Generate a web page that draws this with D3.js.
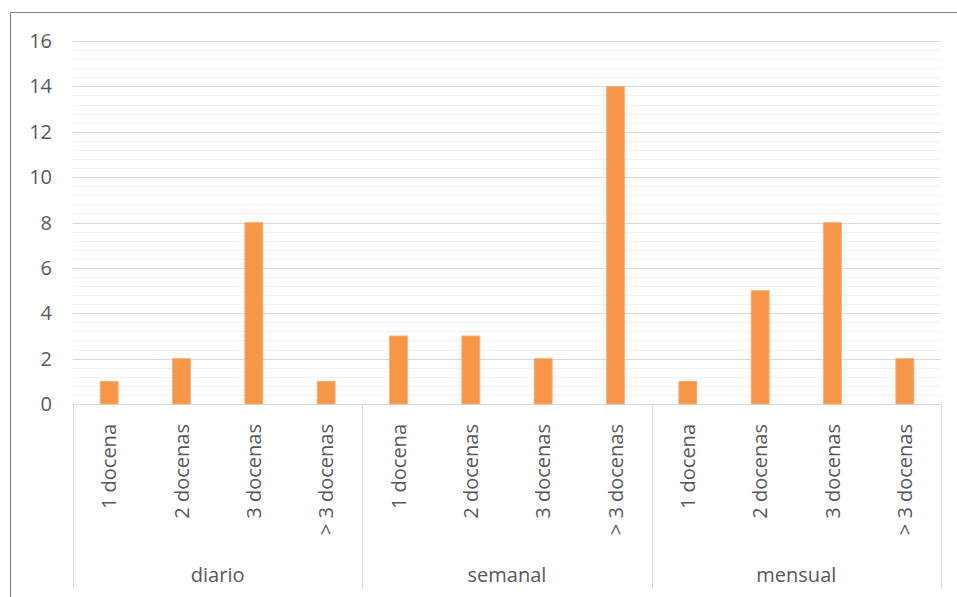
<!DOCTYPE html>
<html>
<head>
<meta charset="utf-8">
<script src="https://cdn.jsdelivr.net/npm/d3@7"></script>
<style>
body { margin: 0; background: #fff; }
text { font-family: 'Open Sans', sans-serif; fill: #595959; }
</style>
</head>
<body>
<svg id="chart"></svg>
<script>
var width = 957;
var height = 597;

// data
var groups = ["diario", "semanal", "mensual"];
var categories = ["1 docena", "2 docenas", "3 docenas", "> 3 docenas"];
var diario = [1, 2, 8, 1];
var semanal = [3, 3, 2, 14];
var mensual = [1, 5, 8, 2];
var yTicks = [0, 2, 4, 6, 8, 10, 12, 14, 16];

var series = [diario, semanal, mensual];
var data = [];
groups.forEach(function (g, gi) {
	categories.forEach(function (c, ci) {
		data.push({ group: g, cat: c, key: g + "|" + c, value: series[gi][ci] });
	});
});

var plotLeft = 73, plotRight = 941, plotTop = 41, plotBottom = 404;
var barWidth = 18;

var svg = d3.select("#chart")
.attr("width", width)
.attr("height", height);

// chart border
svg.append("rect")
.attr("x", 10.5)
.attr("y", 12.5)
.attr("width", 960)
.attr("height", 600)
.style("fill", "none")
.style("stroke", "#808080")
.style("stroke-width", 1);

var x = d3.scaleBand()
.domain(data.map(function (d) { return d.key; }))
.range([plotLeft, plotRight]);

var xGroup = d3.scaleBand()
.domain(groups)
.range([plotLeft, plotRight]);

var y = d3.scaleLinear()
.domain([0, 16])
.range([plotBottom, plotTop]);

// minor gridlines
var minor = d3.range(0, 16.01, 0.4).filter(function (v) {
	return Math.abs(v / 2 - Math.round(v / 2)) > 0.01;
});
svg.append("g").selectAll("line")
.data(minor)
.enter().append("line")
.attr("x1", plotLeft)
.attr("x2", plotRight)
.attr("y1", function (d) { return Math.round(y(d)) + 0.5; })
.attr("y2", function (d) { return Math.round(y(d)) + 0.5; })
.style("stroke", "#f2f2f2")
.style("stroke-width", 1);

// major gridlines
svg.append("g").selectAll("line")
.data(yTicks)
.enter().append("line")
.attr("x1", plotLeft)
.attr("x2", plotRight)
.attr("y1", function (d) { return Math.round(y(d)) + 0.5; })
.attr("y2", function (d) { return Math.round(y(d)) + 0.5; })
.style("stroke", "#d9d9d9")
.style("stroke-width", 1);

// y labels
svg.append("g").selectAll("text")
.data(yTicks)
.enter().append("text")
.attr("x", 52)
.attr("y", function (d) { return y(d); })
.attr("dy", "0.35em")
.style("text-anchor", "end")
.style("font-size", "20px")
.text(function (d) { return d; });

// bars
svg.append("g").selectAll("rect")
.data(data)
.enter().append("rect")
.attr("x", function (d) { return x(d.key) + x.bandwidth() / 2 - barWidth / 2; })
.attr("y", function (d) { return y(d.value); })
.attr("width", barWidth)
.attr("height", function (d) { return y(0) - y(d.value); })
.style("fill", "#f79646")
.style("stroke", "#fab07a")
.style("stroke-width", 0.8);

// group separators
var seps = groups.map(function (g) { return xGroup(g); }).concat([plotRight]);
svg.append("g").selectAll("line")
.data(seps)
.enter().append("line")
.attr("x1", function (d) { return Math.round(d) + 0.5; })
.attr("x2", function (d) { return Math.round(d) + 0.5; })
.attr("y1", plotBottom)
.attr("y2", 588)
.style("stroke", "#d9d9d9")
.style("stroke-width", 1);

// category labels
svg.append("g").selectAll("text")
.data(data)
.enter().append("text")
.attr("transform", function (d) {
	return "translate(" + (x(d.key) + x.bandwidth() / 2) + ",424) rotate(-90)";
})
.attr("dy", "0.35em")
.style("text-anchor", "end")
.style("font-size", "20px")
.text(function (d) { return d.cat; });

// group labels
svg.append("g").selectAll("text")
.data(groups)
.enter().append("text")
.attr("x", function (d) { return xGroup(d) + xGroup.bandwidth() / 2; })
.attr("y", 582)
.style("text-anchor", "middle")
.style("font-size", "20px")
.text(function (d) { return d; });
</script>
</body>
</html>
